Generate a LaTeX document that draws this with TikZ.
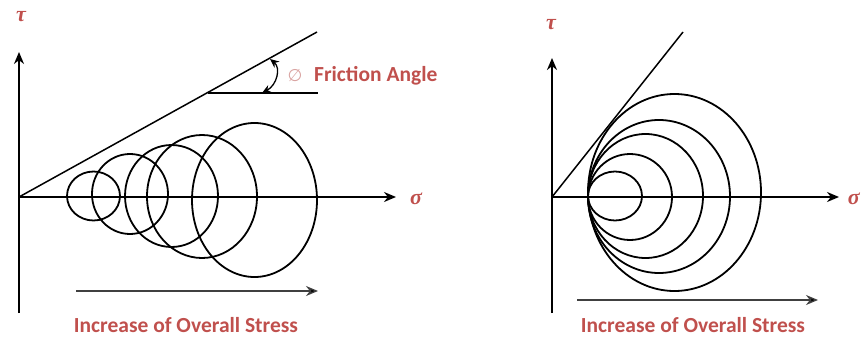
\documentclass[tikz,border=0pt]{standalone}
\usepackage{fontspec}
\setmainfont{Carlito}
\newfontfamily\greekfont{Liberation Serif}
\newfontfamily\symfont{DejaVu Sans}
\usetikzlibrary{arrows.meta}
\definecolor{lbl}{HTML}{C0504D}
\definecolor{phic}{HTML}{D9A3A1}
\tikzset{
  axis/.style={line width=2.5pt,-{Stealth[length=12pt,width=10pt]}},
  ring/.style={line width=1.8pt},
  envelope/.style={line width=1.5pt},
  stressarrow/.style={line width=1.3pt,draw=black!75,-{Stealth[length=12pt,width=10pt,fill=black]}},
  caption/.style={font=\bfseries\fontsize{21.5}{24}\selectfont,text=lbl,inner sep=0pt},
  greek/.style={font=\greekfont\bfseries\itshape\fontsize{22}{24}\selectfont,text=lbl,inner sep=0pt},
  angarrow/.style={line width=1.3pt,{Stealth[length=9pt,width=8pt]}-{Stealth[length=9pt,width=8pt]}}
}
\begin{document}
\begin{tikzpicture}[x=1pt,y=-1pt]
\useasboundingbox (0,0) rectangle (861,340);
% ---------- left diagram ----------
\coordinate (Lo) at (19,197);
\coordinate (Lt) at (19,52);
\coordinate (Lb) at (19,313);
\coordinate (Lx) at (396,197);
\coordinate (Lf) at (317,32);
\coordinate (Lh1) at (208,93);
\coordinate (Lh2) at (318,93);
\coordinate (La1) at (270,59);
\coordinate (La2) at (262,93);
\coordinate (Ls1) at (76,291);
\coordinate (Ls2) at (318,291);
\draw[axis] (Lb) -- (Lt);
\draw[axis] (Lo) -- (Lx);
\draw[envelope] (Lo) -- (Lf);
\draw[line width=1.2pt] (Lh1) -- (Lh2);
\draw[angarrow] (La1) .. controls (281,68) and (277,85) .. (La2);
\draw[ring] (93.5,196) ellipse [x radius=26.5pt, y radius=24.5pt];
\draw[ring] (130,194) ellipse [x radius=38pt, y radius=40pt];
\draw[ring] (171.5,196) ellipse [x radius=46.5pt, y radius=51pt];
\draw[ring] (202,196.5) ellipse [x radius=55pt, y radius=61.5pt];
\draw[ring] (254.5,200) ellipse [x radius=62.5pt, y radius=77pt];
\draw[stressarrow] (Ls1) -- (Ls2);
\node[greek] (Ltau) at (21,17) {τ};
\node[greek,anchor=west] (Lsig) at (410,199) {σ};
\node[font=\symfont\fontsize{17}{18}\selectfont,text=phic,inner sep=0pt] (phi) at (295,76) {∅};
\node[caption,anchor=west] (fa) at (314,76) {Friction Angle};
\node[caption] (Lcap) at (186,325) {Increase of Overall Stress};
% ---------- right diagram ----------
\coordinate (Ro) at (552,197);
\coordinate (Rt) at (552,58);
\coordinate (Rb) at (552,313);
\coordinate (Rx) at (839,197);
\coordinate (Rf) at (683,32);
\coordinate (Rs1) at (577,300);
\coordinate (Rs2) at (818,300);
\draw[axis] (Rb) -- (Rt);
\draw[axis] (Ro) -- (Rx);
\draw[envelope] (Ro) -- (Rf);
\draw[ring] (615,196) ellipse [x radius=27pt, y radius=24.5pt];
\draw[ring] (630,197) ellipse [x radius=42pt, y radius=43pt];
\draw[ring] (645.5,196) ellipse [x radius=57.5pt, y radius=62pt];
\draw[ring] (659,196.5) ellipse [x radius=71pt, y radius=76.5pt];
\draw[ring] (674.5,192.5) ellipse [x radius=86.5pt, y radius=98.5pt];
\draw[stressarrow] (Rs1) -- (Rs2);
\node[greek] (Rtau) at (551,25) {τ};
\node[greek,anchor=east] (Rsig) at (860,199) {σ};
\node[caption] (Rcap) at (693,325) {Increase of Overall Stress};
\end{tikzpicture}
\end{document}
